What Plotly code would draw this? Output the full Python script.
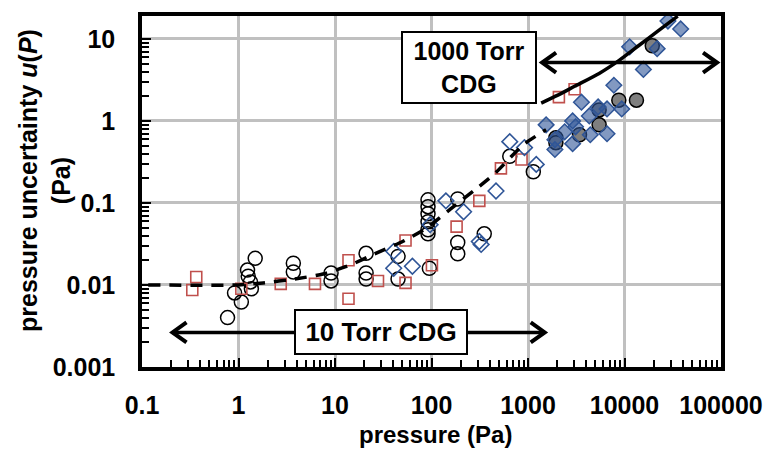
import math
import plotly.graph_objects as go

# ---------------- data ----------------
open_circle_p = [0.77, 0.91, 1.07, 1.24, 1.26, 1.33, 1.36, 1.49, 3.7, 3.7, 9.1, 9.1,
                 21, 21, 21, 45, 45, 92, 92, 92, 92, 92, 92, 95, 187, 187, 187, 352, 647, 1135]
open_circle_u = [0.0040, 0.0080, 0.0062, 0.0152, 0.0128, 0.0109, 0.0090, 0.0211, 0.0184, 0.0144,
                 0.0140, 0.0112, 0.0243, 0.0140, 0.0118, 0.0223, 0.0118, 0.109, 0.090, 0.074,
                 0.059, 0.047, 0.042, 0.016, 0.112, 0.033, 0.024, 0.042, 0.37, 0.24]

red_square_p = [0.365, 0.332, 1.07, 2.74, 6.2, 13.8, 13.8, 27.9, 53.8, 53.8, 101, 182, 313,
                524, 857, 2090, 3040]
red_square_u = [0.0125, 0.0087, 0.0090, 0.0103, 0.0103, 0.020, 0.0068, 0.0112, 0.0348, 0.0106,
                0.0174, 0.0514, 0.106, 0.264, 0.339, 1.95, 2.43]

open_diamond_p = [40.6, 40.6, 63.4, 96.8, 141, 215, 313, 327, 466, 647, 919, 1218]
open_diamond_u = [0.0257, 0.016, 0.0169, 0.0543, 0.106, 0.078, 0.0339, 0.0312, 0.140, 0.558,
                  0.473, 0.295]

grey_circle_p = [1946, 1946, 3418, 5458, 5458, 8730, 13300, 19400]
grey_circle_u = [0.624, 0.543, 0.678, 0.895, 1.36, 1.79, 1.79, 8.24]

filled_diamond_p = [1540, 1900, 1900, 2400, 2900, 2900, 3110, 3580, 4320, 4420, 5330, 6590,
                    6590, 7760, 9360, 11300, 15700, 21800, 28200, 38200]
filled_diamond_u = [0.895, 0.590, 0.448, 0.736, 1.0, 0.528, 0.848, 1.69, 1.15, 0.678, 1.48,
                    1.40, 0.697, 2.72, 1.40, 8.0, 4.24, 7.6, 16.5, 13.2]

cdg10_curve_p = [0.116, 1.0, 1.8, 3.8, 7.5, 14.2, 27.9, 50.2, 90.2, 158, 272, 444, 898, 1540]
cdg10_curve_u = [0.0100, 0.0100, 0.0106, 0.0118, 0.0136, 0.0174, 0.025, 0.0339, 0.050, 0.0848,
                 0.140, 0.223, 0.514, 0.78]

cdg1000_curve_p = [1370, 2040, 3040, 5460, 8730, 13960, 22300, 35600]
cdg1000_curve_u = [1.65, 2.06, 2.64, 3.79, 5.43, 8.24, 12.5, 18.9]

arrow1000_p = [1400, 91000]
arrow1000_u = 5.14
arrow10_p = [0.207, 1490]
arrow10_u = 0.00264

X_RANGE = [-1, 5]
Y_RANGE = [-3, math.log10(19)]

FONT = "Liberation Sans, Arial, sans-serif"
BLUE = "#2f5597"
RED = "#c0504d"

fig = go.Figure()

fig.add_trace(go.Scatter(x=open_circle_p, y=open_circle_u, mode="markers",
                         marker=dict(symbol="circle-open", size=14, color="black",
                                     line=dict(width=1.5, color="black"))))
fig.add_trace(go.Scatter(x=red_square_p, y=red_square_u, mode="markers",
                         marker=dict(symbol="square-open", size=11, color=RED,
                                     line=dict(width=1.6, color=RED))))
fig.add_trace(go.Scatter(x=open_diamond_p, y=open_diamond_u, mode="markers",
                         marker=dict(symbol="diamond-open", size=12, color=BLUE,
                                     line=dict(width=1.6, color=BLUE))))
fig.add_trace(go.Scatter(x=grey_circle_p, y=grey_circle_u, mode="markers",
                         marker=dict(symbol="circle", size=14, color="#7f7f7f",
                                     line=dict(width=1.5, color="black"))))
fig.add_trace(go.Scatter(x=filled_diamond_p, y=filled_diamond_u, mode="markers",
                         marker=dict(symbol="diamond", size=12, color="rgba(47,85,151,0.6)",
                                     line=dict(width=1.5, color=BLUE))))

fig.add_trace(go.Scatter(x=cdg10_curve_p, y=cdg10_curve_u, mode="lines",
                         line=dict(color="black", width=3.5, dash="12px,9px", shape="spline",
                                   smoothing=0.6)))
fig.add_trace(go.Scatter(x=cdg1000_curve_p, y=cdg1000_curve_u, mode="lines",
                         line=dict(color="black", width=3.5, shape="spline", smoothing=0.6)))

# arrow shafts
fig.add_trace(go.Scatter(x=arrow1000_p, y=[arrow1000_u] * 2, mode="lines",
                         line=dict(color="black", width=3.5)))
fig.add_trace(go.Scatter(x=arrow10_p, y=[arrow10_u] * 2, mode="lines",
                         line=dict(color="black", width=3.5)))


def fx(p):
    return (math.log10(p) - X_RANGE[0]) / (X_RANGE[1] - X_RANGE[0])


def fy(u):
    return (math.log10(u) - Y_RANGE[0]) / (Y_RANGE[1] - Y_RANGE[0])


shapes = []
for (pl, pr), u in [(arrow1000_p, arrow1000_u), (arrow10_p, arrow10_u)]:
    for p, sgn in [(pl, 1), (pr, -1)]:
        shapes.append(dict(type="path", xref="paper", yref="paper",
                           xsizemode="pixel", ysizemode="pixel",
                           xanchor=fx(p), yanchor=fy(u),
                           path=f"M {14*sgn} 10 L 0 0 L {14*sgn} -10",
                           line=dict(color="black", width=4), layer="above"))

annotations = [
    dict(text="<b>1000 Torr<br>CDG</b>", xref="paper", yref="paper", x=0.5654, y=0.8535,
         xanchor="center", yanchor="middle", showarrow=False,
         font=dict(family=FONT, size=25, color="black"),
         bgcolor="white", bordercolor="black", borderwidth=2, borderpad=1,
         width=130, height=67, align="center"),
    dict(text="<b>10 Torr CDG</b>", xref="paper", yref="paper", x=0.4126, y=0.0986,
         xanchor="center", yanchor="middle", showarrow=False,
         font=dict(family=FONT, size=26, color="black"),
         bgcolor="white", bordercolor="black", borderwidth=2, borderpad=1,
         width=168, height=40, align="center"),
    dict(text="<b>pressure uncertainty <i>u</i>(<i>P</i>)<br>(Pa)</b>", xref="paper",
         yref="paper", x=-0.168, y=0.532, xanchor="center", yanchor="middle",
         textangle=-90, showarrow=False, font=dict(family=FONT, size=25, color="black")),
    dict(text="<b>pressure (Pa)</b>", xref="paper", yref="paper", x=0.5076, y=-0.193,
         xanchor="center", yanchor="middle", showarrow=False,
         font=dict(family=FONT, size=24, color="black")),
]

axis_common = dict(type="log", showgrid=True, gridcolor="#c0c0c0", gridwidth=3,
                   showline=True, linecolor="black", linewidth=3.5, mirror=True,
                   tickmode="linear", tick0=0, dtick=1, tickformat="~g",
                   ticks="inside", ticklen=9, tickwidth=2, tickcolor="black",
                   zeroline=False,
                   tickfont=dict(family=FONT, size=25, color="black", weight="bold"),
                   minor=dict(ticks="inside", ticklen=7, tickwidth=2, tickcolor="black",
                              dtick="D1", showgrid=False))

fig.update_layout(
    width=775, height=449, margin=dict(l=142, r=44, t=12, b=82),
    paper_bgcolor="white", plot_bgcolor="white", showlegend=False,
    xaxis=dict(axis_common, range=X_RANGE, ticklabelstandoff=13),
    yaxis=dict(axis_common, range=Y_RANGE, ticklabelstandoff=18),
    shapes=shapes, annotations=annotations,
)

fig.write_html("out.html")
